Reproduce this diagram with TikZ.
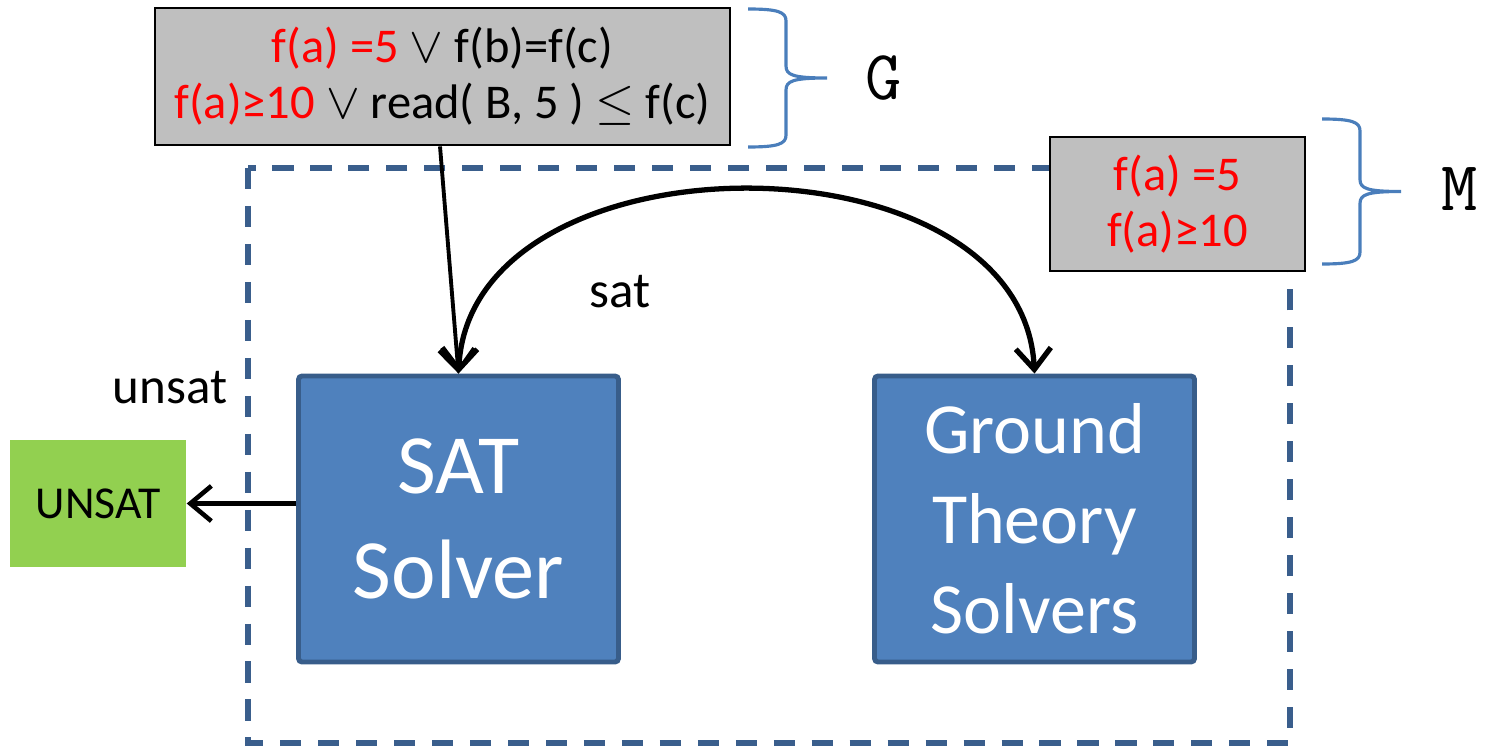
\documentclass[tikz,border=0pt]{standalone}
\usepackage{fontspec}
\setmainfont{Carlito}
\usepackage{xcolor}
\usepackage{tikz}
\usetikzlibrary{arrows, arrows.meta, positioning, calc}

\definecolor{boxgray}{HTML}{BFBFBF}
\definecolor{solverblue}{HTML}{4F81BD}
\definecolor{solveredge}{HTML}{385D8A}
\definecolor{dashblue}{HTML}{3A5E8C}
\definecolor{unsatgreen}{HTML}{92D050}
\definecolor{braceblue}{HTML}{4A7EBB}

\tikzset{
  pics/setbrace/.style={code={
    \draw[braceblue, line width=0.9pt]
      (0,#1) .. controls (0.3,#1) and (0.38,#1-0.03) .. (0.38,#1-0.12)
      -- (0.38,0.12) .. controls (0.38,0.03) and (0.45,0) .. (0.79,0)
      .. controls (0.45,0) and (0.38,-0.03) .. (0.38,-0.12)
      -- (0.38,-#1+0.12) .. controls (0.38,-#1+0.03) and (0.3,-#1) .. (0,-#1);
  }}
}

\begin{document}
\begin{tikzpicture}[
    formula/.style={draw=black, line width=0.8pt, fill=boxgray, align=center, inner sep=0pt, font=\fontsize{13.8}{16}\selectfont},
    solver/.style={draw=solveredge, line width=1.4pt, fill=solverblue, rounded corners=1pt, text=white, align=center, minimum width=3.2cm, minimum height=2.86cm, inner sep=0pt},
    result/.style={fill=unsatgreen, minimum width=1.76cm, minimum height=1.27cm, font=\fontsize{13}{15}\selectfont},
    lbl/.style={font=\fontsize{14.5}{17}\selectfont},
    flow/.style={line width=1.3pt, -{Straight Barb[length=6pt,width=10pt]}},
    setname/.style={inner sep=0pt, font=\ttfamily\fontsize{20}{24}\selectfont},
  ]
  \useasboundingbox (0,0) rectangle (14.85,-7.48);

  % frame round the two solvers
  \draw[dashblue, line width=1.5pt, dash pattern=on 6pt off 4.8pt] (2.48,-1.68) rectangle (12.90,-7.43);

  % formulas and model
  \node[formula, minimum width=5.75cm, minimum height=1.37cm] (gbox) at (4.425,-0.765)
    {\textcolor{red}{f(a) =5} $\vee$ f(b)=f(c)\\ \textcolor{red}{f(a)≥10} $\vee$ read( B, 5 ) $\leq$ f(c)};
  \node[formula, minimum width=2.55cm, minimum height=1.34cm, text=red] (mbox) at (11.775,-2.04)
    {f(a) =5\\ f(a)≥10};

  % solvers
  \node[solver, font=\fontsize{24}{30}\selectfont] (sat) at (4.585,-5.19) {SAT\\Solver};
  \node[solver, font=\fontsize{20.5}{25.6}\selectfont] (ground) at (10.345,-5.19) {Ground\\Theory\\Solvers};
  \node[result] (unsat) at (0.98,-5.035) {UNSAT};

  \node[lbl] (satlbl) at (6.20,-2.92) {sat};
  \node[lbl] (unsatlbl) at (1.70,-3.88) {unsat};

  % braces
  \pic at (7.48,-0.78) {setbrace=0.69};
  \pic at (13.22,-1.915) {setbrace=0.725};
  \node[setname] (gname) at (8.84,-0.78) {G};
  \node[setname] (mname) at (14.60,-1.89) {M};

  % arrows
  \draw[flow, line width=1.1pt] ($(gbox.south)+(-0.025,0)$) -- (sat.north);
  \draw[flow, line width=1.5pt, {Straight Barb[length=6pt,width=10pt]}-{Straight Barb[length=6pt,width=10pt]}]
    (sat.north) .. controls +(0.12,2.45) and +(-0.12,2.45) .. (ground.north);
  \draw[flow] (sat.west |- unsat.east) -- (unsat.east);
\end{tikzpicture}
\end{document}
